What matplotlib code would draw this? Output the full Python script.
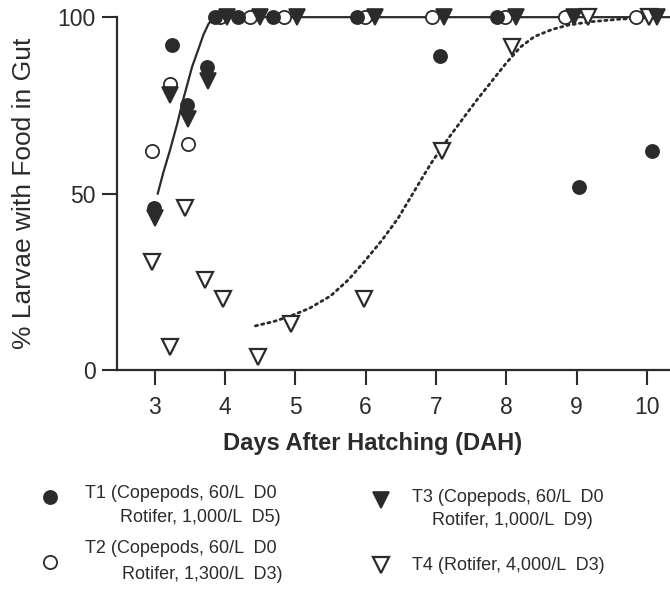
#!/usr/bin/env python
# -*- coding: utf-8 -*-

#...for the plotting.
import matplotlib
matplotlib.use("Agg")
import matplotlib.pyplot as plt

# Arial-like text throughout.
plt.rcParams['font.family'] = ['Liberation Sans', 'DejaVu Sans']

## T1 - filled circles [DAH, %].
t1_days = [2.98, 3.24, 3.46, 3.74, 3.86, 4.18, 4.68, 5.87, 7.05, 7.87, 9.04, 10.07]
t1_pct = [46, 92, 75, 86, 100, 100, 100, 100, 89, 100, 52, 62]

## T2 - open circles.
t2_days = [2.96, 3.21, 3.47, 3.93, 4.35, 4.84, 5.99, 6.94, 7.98, 8.83, 9.84]
t2_pct = [62, 81, 64, 100, 100, 100, 100, 100, 100, 100, 100]

## T3 - filled triangles.
t3_days = [3.0, 3.21, 3.47, 3.75, 4.02, 4.5, 5.02, 6.13, 7.11, 8.14, 8.97, 10.15]
t3_pct = [43, 78, 71, 82, 100, 100, 100, 100, 100, 100, 100, 100]

## T4 - open triangles.
t4_days = [2.96, 3.22, 3.43, 3.71, 3.97, 4.47, 4.94, 5.97, 7.08, 8.08, 9.16, 10.03]
t4_pct = [30.5, 6.5, 46, 25.5, 20, 3.7, 13, 20, 62, 91.5, 100, 100]

## Fitted curve through the copepod treatments (solid).
fit_days = [3.04, 3.12, 3.21, 3.32, 3.40, 3.53, 3.62, 3.69, 3.76, 3.83, 10.5]
fit_pct = [50, 56, 62, 70, 76.5, 86, 91, 95, 98, 100, 100]

## Fitted curve through the rotifer-only treatment (dotted).
fit4_days = [4.43, 4.70, 4.93, 5.20, 5.50, 5.75, 5.97, 6.22, 6.46, 6.70, 6.93,
             7.17, 7.40, 7.60, 7.80, 8.00, 8.20, 8.40, 8.65, 8.89, 9.20, 9.60, 10.1]
fit4_pct = [12.5, 13.8, 15.3, 17.5, 21, 25.5, 30.5, 36.5, 43, 51, 58.6,
            65.5, 71.7, 77, 82, 87, 91.5, 94.5, 96.5, 97.8, 98.7, 99.4, 100]

## Axis ticks.
x_ticks = [3, 4, 5, 6, 7, 8, 9, 10]
y_ticks = [0, 50, 100]

## Legend labels (two lines each).
legend_lines = [
    ("T1 (Copepods, 60/L  D0", "Rotifer, 1,000/L  D5)"),
    ("T2 (Copepods, 60/L  D0", "Rotifer, 1,300/L  D3)"),
    ("T3 (Copepods, 60/L  D0", "Rotifer, 1,000/L  D9)"),
    ("T4 (Rotifer, 4,000/L  D3)", ""),
]

ink = '#2b2b2b'

plot = plt.figure(figsize=(6.7, 5.92), dpi=100, facecolor='w')
ax = plot.add_axes([0.1746, 0.375, 0.8254, 0.596])

# Curves first, markers on top.
ax.plot(fit_days, fit_pct, '-', color=ink, lw=1.6, clip_on=False, zorder=2)
ax.plot(fit4_days, fit4_pct, color=ink, lw=2.0, ls=(0, (0.8, 1.5)),
        dash_capstyle='round', clip_on=False, zorder=2)

## Marker styles for each treatment.
styles = {
    't1': dict(marker='o', ms=9.5, mfc=ink, mec=ink, mew=1.2),
    't2': dict(marker='o', ms=9.5, mfc='white', mec=ink, mew=1.3),
    't3': dict(marker='v', ms=11.5, mfc=ink, mec=ink, mew=1.2),
    't4': dict(marker='v', ms=11.5, mfc='white', mec=ink, mew=1.6),
}

ax.plot(t4_days, t4_pct, ls='none', clip_on=False, zorder=3, **styles['t4'])
ax.plot(t2_days, t2_pct, ls='none', clip_on=False, zorder=4, **styles['t2'])
ax.plot(t3_days, t3_pct, ls='none', clip_on=False, zorder=5, **styles['t3'])
ax.plot(t1_days, t1_pct, ls='none', clip_on=False, zorder=6, **styles['t1'])

ax.set_xlim(2.46, 10.33)
ax.set_ylim(0, 100)
ax.set_xticks(x_ticks)
ax.set_yticks(y_ticks)

for side in ['top', 'right']:
    ax.spines[side].set_visible(False)
for side in ['left', 'bottom']:
    ax.spines[side].set_linewidth(1.6)
    ax.spines[side].set_color(ink)

ax.tick_params(axis='both', direction='out', length=10.5, width=1.5,
               color=ink, labelsize=16.5, labelcolor=ink)
ax.tick_params(axis='x', pad=8)
ax.tick_params(axis='y', pad=5)

ax.set_xlabel("Days After Hatching (DAH)", fontsize=17, fontweight='bold',
              color=ink)
ax.xaxis.set_label_coords(0.463, -0.175)
ax.set_ylabel("% Larvae with Food in Gut", fontsize=19, color=ink)
ax.yaxis.set_label_coords(-0.146, 0.5)

# Legend drawn by hand below the axes.
lax = plot.add_axes([0, 0, 1, 1], facecolor='none')
lax.set_xlim(0, 1)
lax.set_ylim(0, 1)
lax.axis('off')

## Marker positions, first text line and second text line [figure fraction].
legend_marks = [(0.0746, 0.160), (0.0746, 0.0507), (0.569, 0.155), (0.569, 0.0456)]
legend_l1 = [(0.127, 0.167), (0.127, 0.0743), (0.615, 0.160), (0.615, 0.0456)]
legend_l2 = [(0.179, 0.125), (0.182, 0.030), (0.645, 0.120), (0.645, 0.0)]

for key, (mx, my), (x1, y1), (x2, y2), (a, b) in zip(
        ['t1', 't2', 't3', 't4'], legend_marks, legend_l1, legend_l2, legend_lines):
    lax.plot([mx], [my], ls='none', **styles[key])
    lax.text(x1, y1, a, fontsize=13, color=ink, va='center', ha='left')
    if b:
        lax.text(x2, y2, b, fontsize=13, color=ink, va='center', ha='left')

plot.savefig("out.png", dpi=100, facecolor='w')
